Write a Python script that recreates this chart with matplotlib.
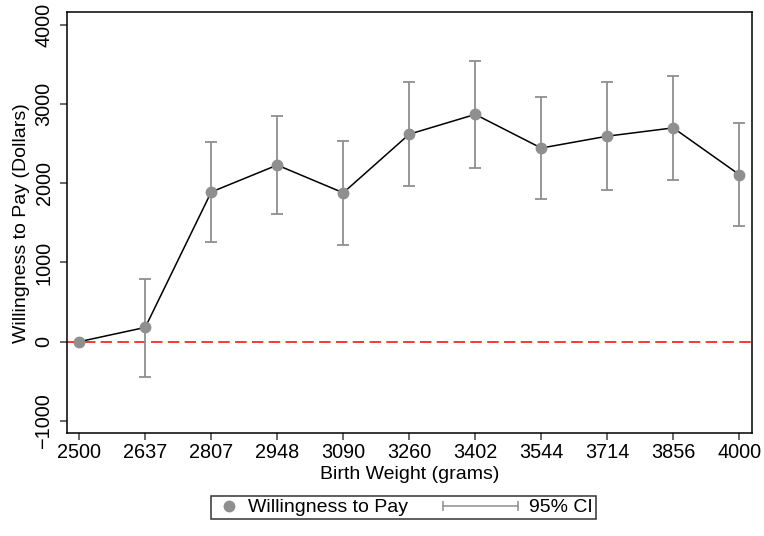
import numpy as np
import matplotlib
matplotlib.use('Agg')
import matplotlib.pyplot as plt
from matplotlib.lines import Line2D
from matplotlib.legend_handler import HandlerBase

# Data
birth_weight = ['2500', '2637', '2807', '2948', '3090', '3260', '3402', '3544', '3714', '3856', '4000']
wtp = [0, 180, 1890, 2230, 1880, 2620, 2870, 2445, 2595, 2700, 2110]
ci_low = [np.nan, -440, 1255, 1610, 1220, 1962, 2195, 1800, 1915, 2042, 1460]
ci_high = [np.nan, 790, 2520, 2848, 2535, 3274, 3540, 3093, 3278, 3358, 2763]

plt.rcParams['font.family'] = ['Liberation Sans', 'DejaVu Sans']
grey = '#8f8f8f'


class HandlerCI(HandlerBase):
    # horizontal CI bar with end caps, drawn like the Stata legend key
    def create_artists(self, legend, orig_handle, xdescent, ydescent, width, height, fontsize, trans):
        y = -ydescent + height / 2
        x1 = -xdescent + width - 5.8
        x0 = x1 - 54
        line = Line2D([x0, x1], [y, y], color=grey, lw=1.1, marker='|', markersize=7, mew=1.1)
        line.set_transform(trans)
        return [line]


fig = plt.figure(figsize=(7.64, 5.36), dpi=100)
ax = fig.add_axes([0.0873, 0.1916, 0.8967, 0.7854])

x = np.arange(len(birth_weight))
wtp_a = np.array(wtp, dtype=float)
lo = np.array(ci_low, dtype=float)
hi = np.array(ci_high, dtype=float)
has_ci = ~np.isnan(lo)

ax.axhline(0, color='red', lw=1.1, dashes=(7.5, 3.5), zorder=1)
ax.plot(x, wtp_a, color='black', lw=1.1, zorder=2)
ax.errorbar(x[has_ci], wtp_a[has_ci],
            yerr=[wtp_a[has_ci] - lo[has_ci], hi[has_ci] - wtp_a[has_ci]],
            fmt='none', ecolor=grey, elinewidth=1.3, capsize=4, capthick=1.3, zorder=3)
ax.plot(x, wtp_a, 'o', color=grey, markersize=7.5, zorder=4)

ax.set_xlim(-0.19, 10.19)
ax.set_ylim(-1157, 4159)
ax.set_xticks(x)
ax.set_xticklabels(birth_weight)
ax.set_yticks([-1000, 0, 1000, 2000, 3000, 4000])
ax.set_yticklabels(['\u22121000', '0', '1000', '2000', '3000', '4000'], rotation=90, va='center')
ax.tick_params(axis='both', labelsize=14.3, length=5, width=1.1, color='#404040')
ax.tick_params(axis='x', pad=2)
ax.tick_params(axis='y', pad=4.5)
for s in ax.spines.values():
    s.set_linewidth(1.1)

ax.set_xlabel('Birth Weight (grams)', fontsize=14, labelpad=3)
ax.set_ylabel('Willingness to Pay (Dollars)', fontsize=14, labelpad=3)

wtp_handle = Line2D([], [], marker='o', ls='none', color=grey, markersize=7.5)
ci_handle = Line2D([], [], color=grey)
leg = fig.legend([wtp_handle, ci_handle], ['Willingness to Pay', '95% CI'],
                 handler_map={ci_handle: HandlerCI()},
                 loc='center', bbox_to_anchor=(0.528, 0.053), ncol=2,
                 fontsize=14, handlelength=1.6, handletextpad=0.15, columnspacing=4.5,
                 borderpad=0.15, frameon=True, fancybox=False, edgecolor='black')
leg.get_frame().set_linewidth(1.1)

fig.savefig('out.png', dpi=100)
